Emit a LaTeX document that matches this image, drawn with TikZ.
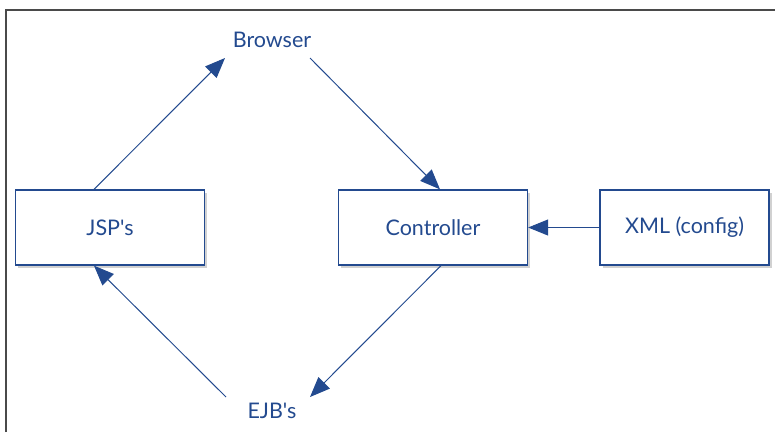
\documentclass[tikz,border=0pt]{standalone}
\usepackage{fontspec}
\newfontfamily\lblfont{Lato}
\usetikzlibrary{arrows.meta}
\definecolor{dblue}{HTML}{234A8F}
\definecolor{frameg}{HTML}{4A4A4A}
\begin{document}
\begin{tikzpicture}[x=1pt,y=-1pt,
  lbl/.style={text=dblue,font=\lblfont\fontsize{21.5}{25}\selectfont,inner sep=0pt},
  boxn/.style={draw=dblue,line width=1.3pt,fill=white,minimum height=75pt,
     text=dblue,font=\lblfont\fontsize{21.5}{25}\selectfont,
     preaction={fill=black!18,draw=none,transform canvas={xshift=2.5pt,yshift=-2.5pt}}},
  conn/.style={draw=dblue,line width=1pt,-{Triangle[length=20pt,width=16pt]}}]
\useasboundingbox (0,0) rectangle (775,432);
\fill[white] (0,0) rectangle (775,432);
\draw[frameg,line width=2pt] (5.5,432) -- (5.5,10) -- (775,10);
\node[boxn,minimum width=189pt] (jsp) at (110,227.5) {JSP's};
\node[boxn,minimum width=189pt] (ctl) at (433,227.5) {Controller};
\node[boxn,minimum width=169pt] (xml) at (684.5,227.5) {XML (config)};
\node[lbl] (br) at (272,40) {Browser};
\node[lbl] (ejb) at (272,411) {EJB's};
\coordinate (brL) at (225,58);
\coordinate (brR) at (310,58);
\coordinate (ejL) at (226,397);
\coordinate (ejR) at (310,397);
\draw[conn] (jsp.north -| 94,0) -- (brL);
\draw[conn] (brR) -- (ctl.north -| 440,0);
\draw[conn] (xml.west) -- (ctl.east);
\draw[conn] (ctl.south -| 441,0) -- (ejR);
\draw[conn] (ejL) -- (jsp.south -| 94,0);
\end{tikzpicture}
\end{document}
